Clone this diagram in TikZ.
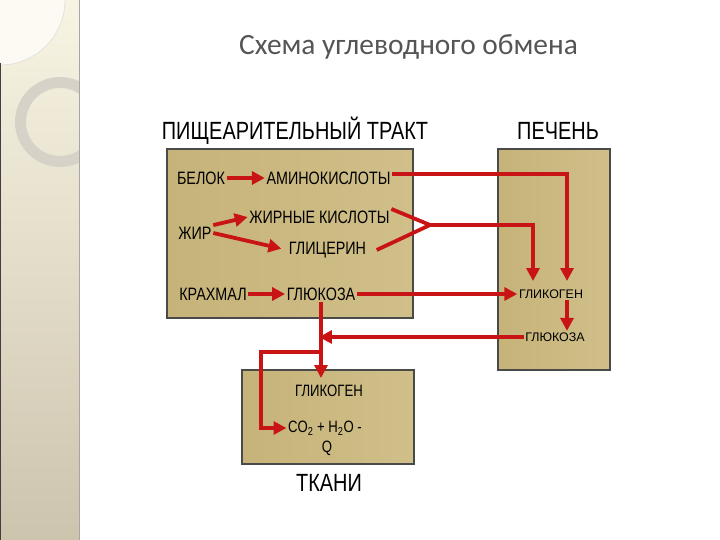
\documentclass[tikz,border=0pt]{standalone}
\usepackage{fontspec}
\setmainfont{Liberation Sans}
\newfontfamily\narrowfont[FakeStretch=0.8]{Liberation Sans}
\newfontfamily\titlefont{Carlito}
\usetikzlibrary{arrows.meta}
\definecolor{flowred}{HTML}{C81414}
\definecolor{boxborder}{HTML}{4A4A48}
\definecolor{khakileft}{HTML}{C6B379}
\definecolor{khakiright}{HTML}{D0BF89}
\definecolor{titlegrey}{HTML}{555555}
\definecolor{sidetop}{HTML}{F8F4E3}
\definecolor{sidebottom}{HTML}{CDC4AE}
\definecolor{ringgrey}{HTML}{D7D2C7}

\begin{document}
\begin{tikzpicture}[
	x=1bp, y=-1bp,
	box/.style={draw=boxborder, line width=1.8pt, rectangle, inner sep=0, left color=khakileft, right color=khakiright},
	head/.style={font=\narrowfont\fontsize{25}{27}\selectfont, inner sep=1.5pt},
	lab/.style={font=\narrowfont\fontsize{18}{20}\selectfont, inner sep=1.5pt},
	tisslab/.style={font=\narrowfont\fontsize{16.5}{18}\selectfont, inner sep=1.5pt},
	liverlab/.style={font=\fontsize{12.5}{14}\selectfont, inner sep=1.5pt},
	line/.style={flowred, line width=3.8pt},
	arrow/.style={line, -{Triangle[length=13pt,width=13pt]}}
]
\useasboundingbox (0,0) rectangle (720,540);

% side panel
\shade[top color=sidetop, bottom color=sidebottom] (0,0) rectangle (79,540);
\begin{scope}
	\clip (0,0) rectangle (79,540);
	\fill[white!55!sidetop, draw=black!15, line width=0.5pt] (0,0) circle[radius=65];
	\fill[ringgrey, even odd rule] (60,122) circle[radius=45] (60,122) circle[radius=34];
\end{scope}
\draw[black!75, line width=1.5pt] (0.75,63) -- (0.75,540);
\draw[black!35, line width=0.8pt] (79,0) -- (79,540);

% title and headings
\node[font=\titlefont\fontsize{29.5}{32}\selectfont, text=titlegrey] (title) at (408.5,47) {Схема углеводного обмена};
\node[head] (trakt) at (295,131) {ПИЩЕАРИТЕЛЬНЫЙ ТРАКТ};
\node[head] (pechen) at (558,131) {ПЕЧЕНЬ};
\node[head] (tkani) at (329,483) {ТКАНИ};

% The boxes
\node[box, minimum width=246bp, minimum height=169bp] (gut) at (290,233.5) {};
\node[box, minimum width=112bp, minimum height=221bp] (liver) at (554,259.5) {};
\node[box, minimum width=172bp, minimum height=94bp] (tissue) at (328,417) {};

% gut
\node[lab] (belok) at (201,178) {БЕЛОК};
\node[lab] (amino) at (328.5,178) {АМИНОКИСЛОТЫ};
\node[lab] (zhir) at (195,233) {ЖИР};
\node[lab] (fatty) at (319.5,217) {ЖИРНЫЕ КИСЛОТЫ};
\node[lab] (glycerin) at (327.5,250) {ГЛИЦЕРИН};
\node[lab] (krahmal) at (213,294) {КРАХМАЛ};
\node[lab] (glukoza) at (321,294) {ГЛЮКОЗА};

% liver
\node[liverlab] (glikL) at (551,294) {ГЛИКОГЕН};
\node[liverlab] (glukL) at (555,337) {ГЛЮКОЗА};

% tissue
\node[tisslab] (glikT) at (329,391) {ГЛИКОГЕН};
\node[tisslab] (co2) at (325,428) {CO\textsubscript{2} + H\textsubscript{2}O -};
\node[tisslab] (q) at (327,448) {Q};

% turning points
\coordinate (inA) at (567,281);
\coordinate (inB) at (533,281);
\coordinate (fork) at (430,225);
\coordinate (split) at (321,352);
\coordinate (drop) at (321,378);
\coordinate (bend) at (261,352);

% The connections
\draw[arrow] (belok) -- (amino);
\draw[arrow] (zhir.north east) -- (fatty.west);
\draw[arrow, shorten >=6pt] (zhir.east) -- (glycerin.west);
\draw[arrow] (krahmal) -- (glukoza);

\draw[arrow] ([yshift=4pt]amino.east) -| (inA);
\draw[line, line join=round] (fatty.north east) -- (fork) -- ([xshift=9pt]glycerin.east);
\draw[arrow] (fork) -| (inB);
\draw[arrow] (glukoza.east) -- (glikL.west);
\draw[arrow] (glikL.south -| inA) -- (glukL.north -| inA);
\draw[arrow, shorten >=-2pt] (glukL.west) -- (glukL.west -| split);

\draw[arrow] (glukoza.south -| drop) -- (drop);
\draw[arrow] (split) -- (bend) |- (co2.west);

\end{tikzpicture}
\end{document}
